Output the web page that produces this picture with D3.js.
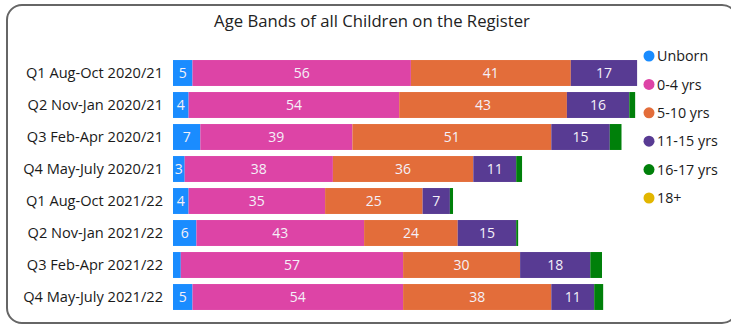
<!DOCTYPE html>
<html lang="en">
<head>
<meta charset="utf-8">
<title>Age Bands of all Children on the Register</title>
<script src="https://d3js.org/d3.v7.min.js"></script>
<style>
  body { margin: 0; background: #fff; }
  text { font-family: "Open Sans", "Liberation Sans", sans-serif; }
</style>
</head>
<body>
<div id="chart"></div>
<script>
// quarters, top to bottom
var categories = ["Q1 Aug-Oct 2020/21", "Q2 Nov-Jan 2020/21", "Q3 Feb-Apr 2020/21", "Q4 May-July 2020/21",
                  "Q1 Aug-Oct 2021/22", "Q2 Nov-Jan 2021/22", "Q3 Feb-Apr 2021/22", "Q4 May-July 2021/22"];

// counts per age band
var unborn   = [5, 4, 7, 3, 4, 6, 2, 5];
var age0_4   = [56, 54, 39, 38, 35, 43, 57, 54];
var age5_10  = [41, 43, 51, 36, 25, 24, 30, 38];
var age11_15 = [17, 16, 15, 11, 7, 15, 18, 11];
var age16_17 = [0, 1.5, 3, 1.5, 0.8, 0.5, 3, 2.3];
var age18    = [0, 0, 0, 0, 0, 0, 0, 0];

var seriesNames = ["Unborn", "0-4 yrs", "5-10 yrs", "11-15 yrs", "16-17 yrs", "18+"];
var seriesVals  = [unborn, age0_4, age5_10, age11_15, age16_17, age18];
var colors      = ["#1a8cff", "#dd44a6", "#e36d3a", "#583b93", "#00800a", "#e2b600"];
var showLabels  = [true, true, true, true, false, false];

var width = 731, height = 326;

var svg = d3.select("#chart").append("svg")
  .attr("width", width)
  .attr("height", height);

// outer rounded frame
svg.append("rect")
  .attr("x", 7).attr("y", 5)
  .attr("width", 730).attr("height", 318)
  .attr("rx", 15)
  .attr("fill", "none")
  .attr("stroke", "#666")
  .attr("stroke-width", 2);

svg.append("text")
  .attr("x", 372).attr("y", 27)
  .attr("text-anchor", "middle")
  .attr("font-size", "16.7px")
  .attr("fill", "#222")
  .text("Age Bands of all Children on the Register");

// build a table for d3.stack
var table = categories.map(function(c, i) {
  var row = { cat: c };
  seriesNames.forEach(function(s, j) { row[s] = seriesVals[j][i]; });
  return row;
});
var stacked = d3.stack().keys(seriesNames)(table);

var x = d3.scaleLinear().domain([0, 120]).range([173, 641]);
var y = d3.scaleBand().domain(categories).range([57, 313])
  .paddingInner(0.19).paddingOuter(0.095);

var groups = svg.selectAll("g.series")
  .data(stacked)
  .enter().append("g")
    .attr("class", "series")
    .attr("fill", function(d, i) { return colors[i]; });

groups.selectAll("rect")
  .data(function(d) { return d; })
  .enter().append("rect")
    .attr("x", function(d) { return x(d[0]); })
    .attr("y", function(d) { return y(d.data.cat); })
    .attr("width", function(d) { return x(d[1]) - x(d[0]); })
    .attr("height", y.bandwidth());

groups.each(function(s, i) {
  if (!showLabels[i]) return;
  d3.select(this).selectAll("text")
    .data(s.filter(function(d) { return d[1] - d[0] >= 3; }))
    .enter().append("text")
      .attr("x", function(d) { return (x(d[0]) + x(d[1])) / 2; })
      .attr("y", function(d) { return y(d.data.cat) + y.bandwidth() / 2; })
      .attr("dy", "0.36em")
      .attr("text-anchor", "middle")
      .attr("font-size", "14px")
      .attr("fill", "#f4f0f8")
      .text(function(d) { return d[1] - d[0]; });
});

// category axis (no line, no ticks)
var yAxis = svg.append("g")
  .attr("transform", "translate(167,0)")
  .call(d3.axisLeft(y).tickSize(0).tickPadding(4));
yAxis.select(".domain").remove();
yAxis.selectAll("text")
  .attr("font-size", "14.6px")
  .attr("fill", "#1a1a1a")
  .style("font-family", "'Open Sans', sans-serif");

// legend
var legend = svg.append("g");
var legendY = d3.scalePoint().domain(seriesNames).range([56, 198]);
var items = legend.selectAll("g")
  .data(seriesNames)
  .enter().append("g")
    .attr("transform", function(d) { return "translate(649," + legendY(d) + ")"; });
items.append("circle")
  .attr("r", 5.5)
  .attr("fill", function(d, i) { return colors[i]; });
items.append("text")
  .attr("x", 8)
  .attr("dy", "0.36em")
  .attr("font-size", "14.3px")
  .attr("fill", "#1a1a1a")
  .text(function(d) { return d; });
</script>
</body>
</html>
